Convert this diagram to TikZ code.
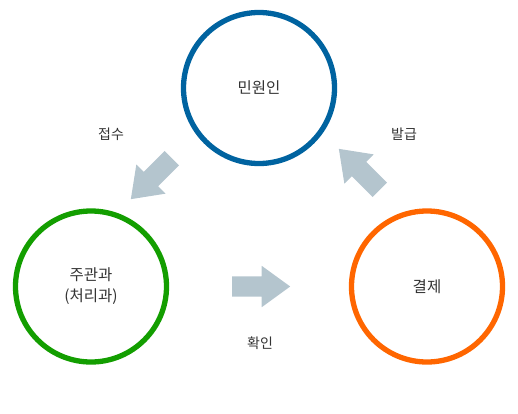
\documentclass[tikz,border=0pt]{standalone}
\usepackage{fontspec}
\setmainfont{Noto Sans CJK KR}
\usepackage{xcolor}
\usepackage{tikz}
\usetikzlibrary{positioning, shapes.arrows}

\definecolor{civilblue}{HTML}{0063A0}
\definecolor{deptgreen}{HTML}{139E00}
\definecolor{payorange}{HTML}{FF6600}
\definecolor{flowgray}{HTML}{B4C5CE}
\definecolor{txtgray}{HTML}{333333}

\begin{document}
\begin{tikzpicture}[
  x=1pt, y=-1pt,
  font=\fontsize{15.5}{21}\selectfont,
  text=txtgray,
  party/.style={circle, draw, line width=5.3pt, minimum size=151pt, inner sep=0pt, align=center},
  flow/.style={single arrow, fill=flowgray, draw=none, minimum height=58pt, anchor=tail,
               text height=0pt, text depth=0pt, inner xsep=0pt, inner ysep=10pt,
               single arrow head extend=10.5pt, single arrow tip angle=72},
  lbl/.style={font=\fontsize{14}{17}\selectfont}
]
\useasboundingbox (0,0) rectangle (518,413);

% three parties
\node[party, draw=civilblue]  (minwon) at (259,88)    {민원인};
\node[party, draw=deptgreen]  (jugwan) at (91,286.5)  {주관과\\(처리과)};
\node[party, draw=payorange]  (gyulje) at (427,286.5) {결제};

% flow arrows (placed by their tails)
\node[flow, rotate=225] (toDept) at (172,158) {};
\node[flow] (toPay) at (232,286.5) {};
\node[flow, rotate=135] (toCivil) at (380,190) {};

% step labels
\node[lbl] (jeopsu) at (111,134) {접수};
\node[lbl] (hwagin) at (260,343) {확인};
\node[lbl] (balgeup) at (404,134) {발급};
\end{tikzpicture}
\end{document}
